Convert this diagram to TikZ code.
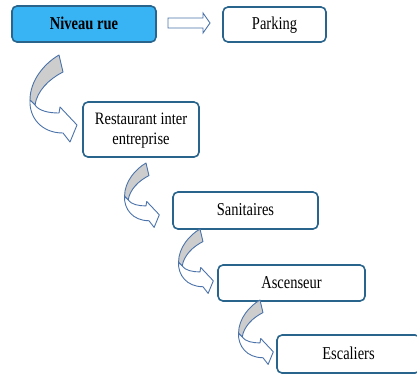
\documentclass[tikz,border=0pt]{standalone}
\usepackage{fontspec}
\setmainfont{Liberation Serif}
\usepackage{graphicx}
\definecolor{boxline}{RGB}{40,100,140}
\definecolor{rueblue}{RGB}{56,180,244}
\definecolor{arrline}{RGB}{75,115,170}
\definecolor{arrgray}{RGB}{205,205,205}
\newcommand{\vtext}[1]{\scalebox{1}[1.25]{\begin{tabular}{@{}c@{}}#1\end{tabular}}}
\tikzset{
  box/.style={draw=boxline, line width=1.6pt, rounded corners=5pt, fill=white,
    inner sep=0pt, font=\fontsize{14.5}{20}\selectfont, text=black},
  curvarrow/.pic={
    \draw[arrline, line width=0.9pt, fill=arrgray, line join=round]
      (0,0) .. controls (-14,8) and (-29,25) .. (-29,45)
      -- (-24,50)
      .. controls (-22,36) and (-10,24) .. (4,17) -- cycle;
    \draw[arrline, line width=0.9pt, fill=white, line join=round]
      (-29,45) .. controls (-30,62) and (-18,78) .. (4,78)
      -- (11,87) -- (18,70) -- (1,52) -- (0,58)
      .. controls (-10,58) and (-20,56) .. (-24,50) -- cycle;
  }
}
\begin{document}
\begin{tikzpicture}[x=1pt,y=-1pt]
\useasboundingbox (0,0) rectangle (417,376);
% boxes
\node[box, fill=rueblue, minimum width=144pt, minimum height=36pt] (rue) at (84,24) {\vtext{\bfseries Niveau rue}};
\node[box, minimum width=103pt, minimum height=35pt] (parking) at (274.5,24.5) {\vtext{Parking}};
\node[box, minimum width=116pt, minimum height=55pt] (resto) at (141,129.5) {\scalebox{1}[1.2]{\begin{tabular}{@{}c@{}}Restaurant inter\\[-3pt] entreprise\end{tabular}}};
\node[box, minimum width=145pt, minimum height=37pt] (sani) at (245.5,210.5) {\vtext{Sanitaires}};
\node[box, minimum width=147pt, minimum height=36pt] (asc) at (291.5,283) {\vtext{Ascenseur}};
\node[box, minimum width=143pt, minimum height=38pt] (esc) at (348.5,354) {\vtext{Escaliers}};
% straight block arrow
\draw[arrline, line width=0.9pt, fill=white, line join=miter]
  (168,18) -- (203,18) -- (203,13) -- (210,23) -- (203,33) -- (203,28) -- (168,28) -- cycle;
% curved arrows
\pic at (59,55) {curvarrow};
\pic[scale=0.74] at (146,163) {curvarrow};
\pic[scale=0.74] at (200,229) {curvarrow};
\pic[scale=0.74] at (260,300) {curvarrow};
\end{tikzpicture}
\end{document}
